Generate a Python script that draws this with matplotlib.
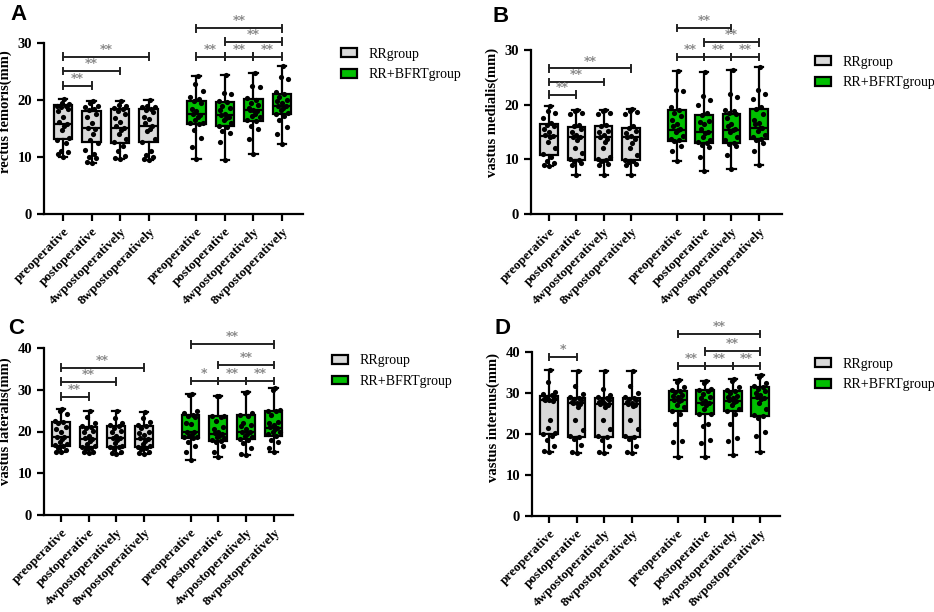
import numpy as np
import matplotlib
matplotlib.use('Agg')
import matplotlib.pyplot as plt
from matplotlib.patches import Patch

plt.rcParams['font.family'] = ['Liberation Serif', 'DejaVu Serif']

#--------- Data --------------
times = ['preoperative', 'postoperative', '4wpostoperatively', '8wpostoperatively']
groups = ['RRgroup', 'RR+BFRTgroup']

# (min, Q1, median, Q3, max) for the 8 boxes of each panel
stats_A = [(10.0, 13.2, 15.8, 19.2, 20.2), (9.0, 12.6, 15.1, 18.0, 19.8),
           (9.6, 12.5, 15.1, 18.5, 19.8), (9.4, 12.6, 15.4, 18.5, 20.0),
           (9.7, 15.8, 17.6, 19.9, 24.2), (9.4, 15.4, 17.3, 19.6, 24.3),
           (10.5, 16.3, 18.2, 20.2, 24.7), (12.2, 17.6, 18.9, 21.0, 25.9)]
stats_B = [(8.8, 10.8, 14.3, 16.5, 19.8), (7.1, 9.8, 14.1, 15.9, 19.1),
           (7.2, 9.9, 14.0, 16.0, 19.1), (7.1, 9.8, 14.0, 15.8, 19.2),
           (9.7, 13.3, 15.4, 19.1, 26.2), (7.9, 13.0, 15.0, 18.1, 26.0),
           (8.3, 13.0, 15.3, 18.3, 26.4), (8.9, 13.8, 15.7, 19.2, 26.8)]
stats_C = [(15.0, 16.6, 18.6, 22.2, 25.4), (14.8, 16.4, 18.2, 21.0, 24.8),
           (14.6, 16.4, 18.4, 21.2, 24.8), (14.6, 16.4, 18.2, 21.4, 24.6),
           (13.2, 18.4, 19.8, 24.0, 29.0), (13.8, 17.8, 19.4, 23.6, 28.6),
           (14.4, 18.2, 19.8, 24.0, 29.4), (15.0, 19.0, 20.8, 25.0, 30.4)]
stats_D = [(15.5, 20.0, 28.4, 29.3, 35.7), (15.3, 19.2, 27.5, 28.8, 35.3),
           (15.3, 19.2, 27.4, 28.8, 35.3), (15.3, 19.2, 27.4, 28.8, 35.3),
           (14.3, 25.7, 28.2, 30.6, 33.1), (14.3, 24.8, 27.5, 30.8, 33.0),
           (14.9, 25.5, 28.1, 30.6, 33.5), (15.7, 24.4, 28.8, 31.4, 34.3)]

# individual subjects
points_A = [
    [20.2, 19.3, 19.0, 18.9, 18.5, 18.8, 17.0, 16.2, 15.8, 15.5, 14.7, 13.3, 12.5, 11.0, 10.8, 10.5, 10.0, 19.5, 18.0, 13.0],
    [19.8, 19.4, 19.0, 18.5, 18.2, 17.6, 17.0, 16.0, 15.1, 15.0, 14.0, 13.0, 12.5, 11.2, 10.5, 10.0, 9.8, 9.2, 9.0, 18.8],
    [19.8, 19.2, 18.6, 18.4, 18.0, 17.5, 16.2, 15.5, 15.1, 14.8, 13.2, 12.6, 12.0, 11.0, 10.2, 9.8, 9.6, 18.9, 16.8, 14.0],
    [20.0, 19.0, 18.7, 18.5, 18.3, 17.9, 16.6, 16.0, 15.4, 15.0, 14.5, 13.2, 12.7, 11.0, 10.4, 10.0, 9.6, 9.4, 18.8, 17.0],
    [24.2, 22.8, 21.5, 20.2, 19.9, 19.5, 18.5, 18.0, 17.6, 17.4, 17.0, 16.5, 16.0, 15.9, 15.8, 14.8, 13.4, 11.8, 9.7, 20.5],
    [24.3, 21.2, 21.0, 19.8, 19.6, 19.0, 18.2, 17.6, 17.3, 17.0, 16.5, 16.0, 15.5, 15.3, 14.6, 14.2, 12.6, 9.4, 18.6, 16.8],
    [24.7, 22.4, 22.2, 20.4, 20.0, 19.2, 18.6, 18.3, 18.2, 18.0, 17.6, 17.0, 16.5, 16.3, 15.5, 15.0, 13.2, 10.5, 19.5, 17.2],
    [25.9, 24.0, 23.6, 21.4, 21.0, 20.5, 19.8, 19.5, 19.0, 18.9, 18.6, 18.2, 17.8, 17.6, 17.2, 16.5, 15.2, 14.0, 12.2, 20.0],
]
points_B = [
    [19.8, 18.5, 17.5, 16.6, 16.2, 15.5, 15.0, 14.5, 14.3, 14.0, 13.2, 12.0, 11.0, 10.5, 9.6, 9.3, 9.0, 8.8, 18.8, 16.0],
    [19.1, 18.5, 18.3, 16.3, 16.0, 15.5, 14.5, 14.1, 14.0, 13.5, 12.0, 11.2, 10.0, 9.6, 9.3, 9.0, 7.1, 18.8, 15.0, 9.8],
    [19.1, 18.5, 18.2, 16.2, 16.0, 15.2, 14.5, 14.0, 13.8, 13.2, 12.0, 10.5, 10.0, 9.6, 9.2, 9.0, 7.2, 18.9, 15.0, 9.8],
    [19.2, 18.6, 18.2, 16.0, 15.8, 15.2, 14.3, 14.0, 13.8, 13.0, 12.0, 10.8, 9.8, 9.5, 9.2, 9.0, 7.1, 18.9, 14.8, 9.6],
    [26.2, 22.6, 22.5, 19.5, 19.1, 18.5, 17.2, 16.5, 15.6, 15.4, 15.0, 14.2, 13.8, 13.5, 13.3, 12.5, 11.5, 9.7, 16.0, 18.0],
    [26.0, 21.5, 20.8, 18.5, 18.1, 17.0, 16.5, 15.5, 15.0, 14.8, 14.0, 13.5, 13.2, 13.0, 12.6, 12.2, 10.4, 7.9, 16.8, 20.0],
    [26.4, 22.0, 21.3, 19.0, 18.5, 18.3, 17.5, 16.5, 15.5, 15.3, 15.0, 14.0, 13.5, 13.0, 12.8, 12.5, 10.8, 8.3, 16.0, 18.8],
    [26.8, 22.6, 22.0, 19.5, 19.2, 18.3, 16.6, 16.5, 15.8, 15.7, 15.2, 14.5, 14.0, 13.8, 13.5, 13.0, 11.5, 8.9, 17.2, 21.0],
]
points_C = [
    [25.4, 25.0, 24.3, 22.4, 22.2, 21.0, 20.5, 19.8, 18.8, 18.6, 18.2, 17.4, 16.8, 16.6, 16.0, 15.5, 15.2, 15.0, 22.0, 17.0],
    [24.8, 23.5, 22.0, 21.3, 21.0, 20.2, 19.8, 19.0, 18.4, 18.2, 17.8, 17.0, 16.5, 16.4, 15.8, 15.2, 15.0, 14.8, 20.8, 16.0],
    [24.8, 23.2, 22.0, 21.5, 21.2, 20.2, 19.8, 19.0, 18.5, 18.4, 18.0, 17.2, 16.6, 16.4, 15.8, 15.2, 14.8, 14.6, 20.8, 16.2],
    [24.6, 23.2, 22.2, 21.6, 21.4, 20.0, 19.6, 19.2, 18.4, 18.2, 17.8, 17.0, 16.6, 16.4, 15.8, 15.2, 14.8, 14.6, 20.8, 16.0],
    [29.0, 28.8, 25.0, 24.4, 24.0, 23.5, 22.0, 21.8, 20.0, 19.8, 19.5, 19.0, 18.6, 18.4, 17.5, 16.5, 15.0, 13.2, 23.8, 18.8],
    [28.6, 28.4, 23.8, 23.6, 23.4, 22.5, 21.0, 20.0, 19.6, 19.4, 19.0, 18.5, 18.0, 17.8, 17.5, 16.5, 15.2, 13.8, 20.5, 18.8],
    [29.4, 29.2, 24.4, 24.0, 23.8, 22.0, 21.5, 20.5, 20.0, 19.8, 19.4, 19.0, 18.6, 18.2, 17.2, 16.0, 14.6, 14.4, 21.2, 18.0],
    [30.4, 30.0, 25.2, 25.0, 24.8, 24.0, 22.3, 21.5, 21.0, 20.8, 20.5, 20.0, 19.5, 19.0, 18.0, 17.6, 16.0, 15.0, 22.0, 19.8],
]
points_D = [
    [35.7, 32.8, 30.2, 29.8, 29.4, 29.0, 28.7, 28.5, 28.4, 28.2, 28.0, 23.5, 21.5, 20.2, 20.0, 19.5, 18.5, 17.0, 15.5, 15.8],
    [35.3, 31.8, 29.8, 29.0, 28.8, 28.2, 27.8, 27.6, 27.5, 27.2, 26.5, 23.5, 21.0, 19.5, 19.2, 18.8, 17.2, 15.5, 15.3, 28.5],
    [35.3, 31.0, 29.5, 29.0, 28.8, 28.4, 27.8, 27.5, 27.4, 27.0, 26.5, 23.5, 21.2, 19.5, 19.2, 18.5, 17.0, 15.5, 15.3, 28.2],
    [35.3, 31.8, 30.0, 29.0, 28.8, 28.3, 27.8, 27.5, 27.4, 27.0, 26.8, 23.5, 21.2, 19.5, 19.2, 18.8, 17.0, 15.5, 15.3, 28.5],
    [33.1, 32.8, 31.5, 30.8, 30.6, 30.2, 29.5, 29.0, 28.4, 28.2, 28.0, 27.0, 26.5, 25.7, 25.0, 22.5, 18.2, 18.0, 14.3, 29.3],
    [33.0, 32.5, 31.0, 30.8, 30.5, 29.8, 28.8, 28.0, 27.6, 27.5, 27.0, 26.0, 25.0, 24.8, 22.5, 22.0, 18.5, 17.8, 14.3, 29.0],
    [33.5, 33.0, 31.5, 30.8, 30.6, 30.0, 29.2, 28.8, 28.3, 28.1, 27.8, 27.0, 26.2, 25.5, 24.8, 22.5, 19.0, 18.3, 14.9, 29.0],
    [34.3, 34.0, 32.5, 31.6, 31.4, 31.0, 30.0, 29.4, 29.0, 28.8, 28.5, 27.5, 26.0, 24.6, 24.4, 24.0, 20.5, 19.5, 15.7, 30.5],
]

# significance brackets: (box i, box j, height, label)
sig_A = [(0, 1, 22.5, '**'), (0, 2, 25.1, '**'), (0, 3, 27.6, '**'),
         (4, 5, 27.6, '**'), (5, 6, 27.6, '**'), (6, 7, 27.6, '**'),
         (5, 7, 30.2, '**'), (4, 7, 32.6, '**')]
sig_B = [(0, 1, 21.8, '**'), (0, 2, 24.1, '**'), (0, 3, 26.6, '**'),
         (4, 5, 28.7, '**'), (5, 6, 28.7, '**'), (6, 7, 28.7, '**'),
         (5, 7, 31.4, '**'), (4, 6, 34.0, '**')]
sig_C = [(0, 1, 28.3, '**'), (0, 2, 31.9, '**'), (0, 3, 35.3, '**'),
         (4, 5, 32.1, '*'), (5, 6, 32.1, '**'), (6, 7, 32.1, '**'),
         (5, 7, 35.9, '**'), (4, 7, 40.9, '**')]
sig_D = [(0, 1, 38.8, '*'),
         (4, 5, 36.6, '**'), (5, 6, 36.6, '**'), (6, 7, 36.6, '**'),
         (5, 7, 40.2, '**'), (4, 7, 44.4, '**')]
#-----------------------------

grey = '#d9d9d9'
green = '#00bf00'
positions = np.array([0, 1, 2, 3, 4.68, 5.68, 6.68, 7.68])
jitter = [0.0, -0.17, 0.17, -0.09, 0.09, -0.22, 0.22, -0.04, 0.04, 0.13, -0.13]


def draw_panel(ax, stats, points, sigs, ylabel, ytop, ymax, xlim, yunit):
    bxp_stats = []
    for s in stats:
        bxp_stats.append({'whislo': s[0], 'q1': s[1], 'med': s[2], 'q3': s[3],
                          'whishi': s[4], 'fliers': []})
    bp = ax.bxp(bxp_stats, positions=positions, widths=0.64, patch_artist=True,
                showfliers=False,
                boxprops=dict(edgecolor='black', linewidth=1.6),
                medianprops=dict(color='black', linewidth=1.6),
                whiskerprops=dict(color='black', linewidth=1.6),
                capprops=dict(color='black', linewidth=1.6), capwidths=0.3)
    for k, b in enumerate(bp['boxes']):
        b.set_facecolor(grey if k < 4 else green)

    for k, vals in enumerate(points):
        vals = sorted(vals)
        xs = [positions[k] + jitter[i % len(jitter)] for i in range(len(vals))]
        ax.scatter(xs, vals, s=14, color='black', zorder=5, linewidths=0)

    for i, j, h, lab in sigs:
        x1, x2 = positions[i], positions[j]
        ax.plot([x1, x2], [h, h], color='#222222', lw=1.4)
        for xx in (x1, x2):
            ax.plot([xx, xx], [h - 0.6 * yunit, h + 0.6 * yunit], color='#222222', lw=1.4)
        ax.text((x1 + x2) / 2, h + 0.15 * yunit, lab, ha='center', va='bottom',
                color='#8a8a8a', fontsize=9, family='DejaVu Sans', fontweight='bold')

    ax.set_xlim(xlim)
    ax.set_ylim(0, ymax)
    ax.spines['top'].set_visible(False)
    ax.spines['right'].set_visible(False)
    ax.spines['left'].set_bounds(0, ytop)
    ax.spines['left'].set_linewidth(1.6)
    ax.spines['bottom'].set_linewidth(1.6)
    ax.set_yticks(np.arange(0, ytop + 1, 10))
    ax.set_xticks(positions)
    ax.set_xticklabels(times * 2, rotation=45, ha='right', rotation_mode='anchor',
                       fontsize=9.5, fontweight='bold')
    ax.tick_params(axis='both', direction='out', length=5, width=1.6)
    ax.tick_params(axis='y', labelsize=10.5)
    for t in ax.get_yticklabels():
        t.set_fontweight('bold')
    ax.set_ylabel(ylabel, fontsize=10.5, fontweight='bold', labelpad=4)


fig = plt.figure(figsize=(9.34, 6.12), dpi=100)
W, H = 934, 612


def add_axes(left, right, y0, top):
    return fig.add_axes([left / W, 1 - y0 / H, (right - left) / W, (y0 - top) / H])


# A: y=0 at 214px, 5.7 px per unit
axA = add_axes(44, 303, 214, 214 - 36 * 5.7)
draw_panel(axA, stats_A, points_A, sig_A, 'rectus femoris(mm)', 30, 36, (-0.67, 8.42), 1.0)
# B: y=0 at 214px, 5.47 px per unit
axB = add_axes(531, 782, 214, 214 - 37 * 5.47)
draw_panel(axB, stats_B, points_B, sig_B, 'vastus medialis(mm)', 30, 37, (-0.66, 8.53), 1.0)
# C: y=0 at 515px, 4.175 px per unit
axC = add_axes(44, 293, 515, 515 - 45 * 4.175)
draw_panel(axC, stats_C, points_C, sig_C, 'vastus lateralis(mm)', 40, 45, (-0.61, 8.38), 1.35)
# D: y=0 at 516px, 4.1 px per unit
axD = add_axes(532, 780, 516, 516 - 48 * 4.1)
draw_panel(axD, stats_D, points_D, sig_D, 'vastus internus(mm)', 40, 48, (-0.62, 8.4), 1.35)

for lab, (x, y) in zip('ABCD', [(10, 4), (492, 6), (8, 318), (494, 318)]):
    fig.text(x / W, 1 - y / H, lab, fontsize=16, fontweight='bold',
             family='Liberation Sans', va='top', ha='left')

handles = [Patch(facecolor=grey, edgecolor='black', linewidth=1.6, label=groups[0]),
           Patch(facecolor=green, edgecolor='black', linewidth=1.6, label=groups[1])]
# left edge of the legend patches, vertical middle between the two rows (px)
for (x, y) in [(341, 64.5), (815, 72.5), (332, 371), (815, 374.5)]:
    fig.legend(handles=handles, loc='center left', bbox_to_anchor=(x / W, 1 - y / H),
               frameon=False, fontsize=10, handlelength=1.15, handleheight=0.6,
               labelspacing=0.55, handletextpad=0.8, borderpad=0, borderaxespad=0)

fig.savefig('out.png', dpi=100)
